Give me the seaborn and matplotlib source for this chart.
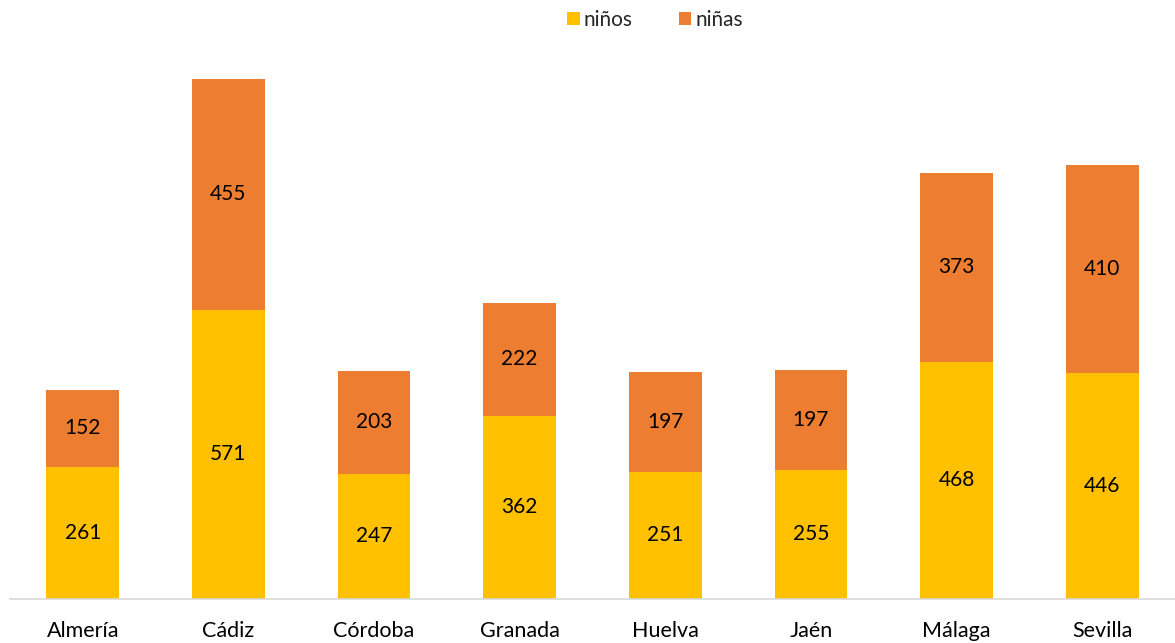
import numpy as np
import matplotlib
matplotlib.use("Agg")
import matplotlib.pyplot as plt
import seaborn as sns
import pandas as pd

provincias = ["Almería", "Cádiz", "Córdoba", "Granada", "Huelva", "Jaén", "Málaga", "Sevilla"]
ninos = [261, 571, 247, 362, 251, 255, 468, 446]
ninas = [152, 455, 203, 222, 197, 197, 373, 410]

sns.set_theme(style="white")
plt.rcParams["font.family"] = ["Lato", "DejaVu Sans"]

df = pd.DataFrame({"provincia": provincias, "niños": ninos, "niñas": ninas})
df["total"] = df["niños"] + df["niñas"]

fig = plt.figure(figsize=(11.75, 6.43), dpi=100)
ax = fig.add_axes([10 / 1175, 44 / 643, 1165 / 1175, 557.5 / 643])

# stacked: draw total in orange first, then niños on top in yellow
sns.barplot(data=df, x="provincia", y="total", color="#ED7D31", width=0.5,
            saturation=1, ax=ax, label="niñas", linewidth=0, legend=False)
sns.barplot(data=df, x="provincia", y="niños", color="#FFC000", width=0.5,
            saturation=1, ax=ax, label="niños", linewidth=0, legend=False)

for i, (a, b) in enumerate(zip(ninos, ninas)):
    ax.text(i, a / 2, str(a), ha="center", va="center", fontsize=15, color="#000000")
    ax.text(i, a + b / 2, str(b), ha="center", va="center", fontsize=15, color="#000000")

ax.set_ylim(0, 1100)
ax.set_xlim(-0.5, 7.5)
ax.set_xlabel("")
ax.set_ylabel("")
ax.set_yticks([])
ax.tick_params(axis="x", length=0, labelsize=15.5, pad=16, colors="#000000")
for s in ["top", "right", "left"]:
    ax.spines[s].set_visible(False)
ax.spines["bottom"].set_color("#D9D9D9")
ax.spines["bottom"].set_linewidth(1.2)

handles, labels = ax.get_legend_handles_labels()
if ax.get_legend() is not None:
    ax.get_legend().remove()
order = [labels.index("niños"), labels.index("niñas")]
fig.legend([handles[k] for k in order], [labels[k] for k in order],
           loc="center", bbox_to_anchor=(655 / 1175, 1 - 20 / 643), ncol=2,
           frameon=False, fontsize=15, handlelength=0.6, handleheight=0.6,
           handletextpad=0.2, columnspacing=2.2)

fig.savefig("out.png", dpi=100)
